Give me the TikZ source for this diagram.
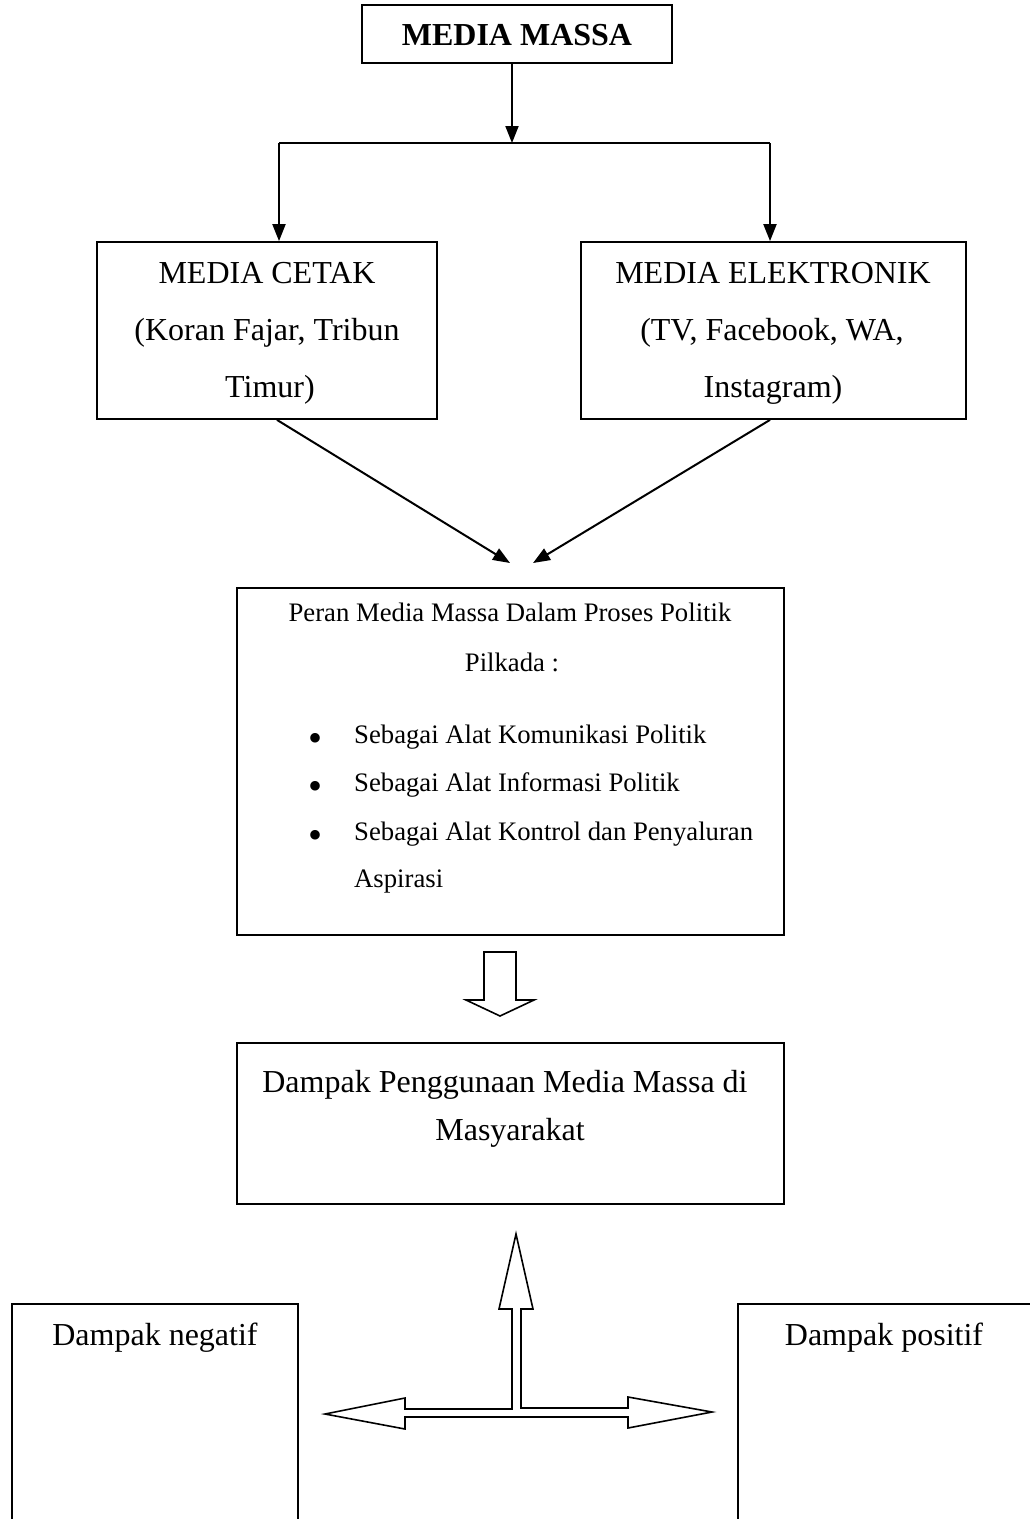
\documentclass[tikz,border=0pt]{standalone}
\usepackage{fontspec}
\setmainfont{Liberation Serif}
\usetikzlibrary{arrows.meta}
\begin{document}
\begin{tikzpicture}[x=1pt,y=-1pt,
  box/.style={draw, line width=1.8pt, inner sep=0pt, fill=none},
  big/.style={font=\fontsize{32}{38}\selectfont, anchor=base, inner sep=0pt},
  small/.style={font=\fontsize{26.7}{32}\selectfont, anchor=base, inner sep=0pt},
  smallw/.style={small, anchor=base west},
  bul/.style={font=\fontsize{40}{40}\selectfont, anchor=base, inner sep=0pt},
  conn/.style={line width=2pt},
  arr/.style={conn, -{Triangle[length=17pt,width=13pt]}},
  hollow/.style={line width=1.6pt, line join=miter, fill=white}
]
\useasboundingbox (0,0) rectangle (1029,1519);

% boxes
\node[box, minimum width=310pt, minimum height=58pt] (mm) at (517,34) {};
\node[box, minimum width=340pt, minimum height=177pt] (cetak) at (267,330.5) {};
\node[box, minimum width=385pt, minimum height=177pt] (elek) at (773.5,330.5) {};
\node[box, minimum width=547pt, minimum height=347pt] (peran) at (510.5,761.5) {};
\node[box, minimum width=547pt, minimum height=161pt] (dampak) at (510.5,1123.5) {};
\node[box, minimum width=286pt, minimum height=236pt] (neg) at (155,1422) {};
\node[box, minimum width=312pt, minimum height=236pt] (pos) at (894,1422) {};

% texts
\node[big, font=\fontsize{32}{38}\selectfont\bfseries] (tmm) at (517,45) {MEDIA MASSA};

\node[big] (tc1) at (267,283) {MEDIA CETAK};
\node[big] (tc2) at (267,340) {(Koran Fajar, Tribun};
\node[big] (tc3) at (270,397) {Timur)};

\node[big] (te1) at (773,283) {MEDIA ELEKTRONIK};
\node[big] (te2) at (772,340) {(TV, Facebook, WA,};
\node[big] (te3) at (773,397) {Instagram)};

\node[small] (tp1) at (510,621) {Peran Media Massa Dalam Proses Politik};
\node[small] (tp2) at (512,671) {Pilkada :};
\node[bul] (b1) at (315,751) {\textbullet};
\node[bul] (b2) at (315,799) {\textbullet};
\node[bul] (b3) at (315,848) {\textbullet};
\node[smallw] (tb1) at (354,743) {Sebagai Alat Komunikasi Politik};
\node[smallw] (tb2) at (354,791) {Sebagai Alat Informasi Politik};
\node[smallw] (tb3) at (354,840) {Sebagai Alat Kontrol dan Penyaluran};
\node[smallw] (tb4) at (354,887) {Aspirasi};

\node[big] (td1) at (505,1092) {Dampak Penggunaan Media Massa di};
\node[big] (td2) at (510,1140) {Masyarakat};

\node[big] (tn) at (155,1345) {Dampak negatif};
\node[big] (tpo) at (884,1345) {Dampak positif};

% connectors
\coordinate (split) at (512,143);
\coordinate (hl) at (279,143);
\coordinate (hr) at (770,143);
\draw[arr] (mm.south -| split) -- (split);
\draw[conn] (hl) -- (hr);
\draw[arr] (hl) -- (hl |- cetak.north);
\draw[arr] (hr) -- (hr |- elek.north);

\coordinate (tipL) at (510,563);
\coordinate (tipR) at (533,563);
\draw[arr] ([xshift=10pt]cetak.south) -- (tipL);
\draw[arr] (elek.south -| 770,0) -- (tipR);

% hollow down arrow
\draw[hollow] (484,952) -- (516,952) -- (516,1000) -- (534,1000) -- (500,1016)
  -- (466,1000) -- (484,1000) -- cycle;

% three-way hollow arrow
\draw[hollow] (516,1234) -- (533,1309) -- (521,1309) -- (521,1408) -- (628,1408)
  -- (628,1397) -- (712,1412) -- (628,1428) -- (628,1417) -- (405,1417)
  -- (405,1429) -- (325,1414) -- (405,1398) -- (405,1409) -- (512,1409)
  -- (512,1309) -- (499,1309) -- cycle;
\end{tikzpicture}
\end{document}
